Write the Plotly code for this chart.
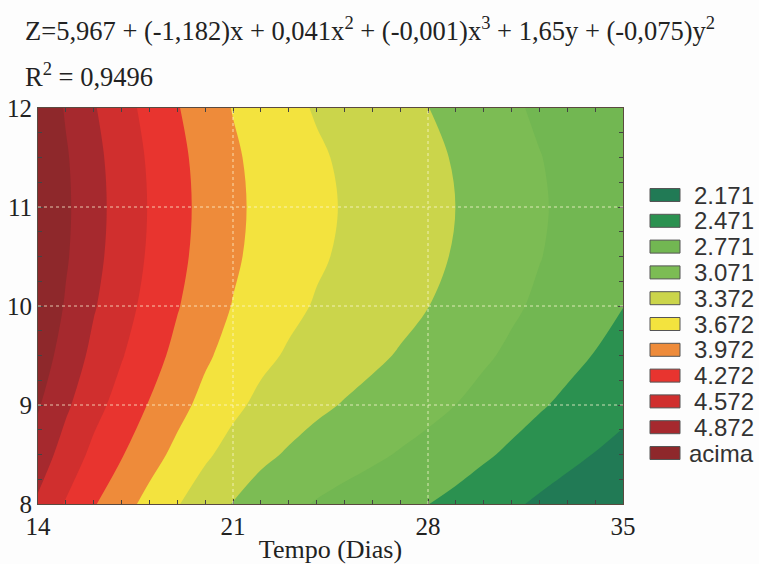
import plotly.graph_objects as go

# ---- data ----
tempo = list(range(14, 36))                       # x: Tempo (Dias)
y_vals = [8, 8.5, 9, 9.5, 10, 10.5, 11, 11.5, 12]  # y axis values

z_rows = [
    [4.525, 4.245, 3.995, 3.785, 3.580, 3.390, 3.210, 3.060, 2.930, 2.835, 2.750, 2.680, 2.615, 2.545, 2.475, 2.395, 2.305, 2.215, 2.125, 2.040, 1.955, 1.875],
    [4.731, 4.451, 4.201, 3.991, 3.786, 3.596, 3.416, 3.266, 3.136, 3.041, 2.956, 2.886, 2.821, 2.751, 2.681, 2.601, 2.511, 2.421, 2.331, 2.246, 2.161, 2.081],
    [4.900, 4.620, 4.370, 4.160, 3.955, 3.765, 3.585, 3.435, 3.305, 3.210, 3.125, 3.055, 2.990, 2.920, 2.850, 2.770, 2.680, 2.590, 2.500, 2.415, 2.330, 2.250],
    [5.031, 4.751, 4.501, 4.291, 4.086, 3.896, 3.716, 3.566, 3.436, 3.341, 3.256, 3.186, 3.121, 3.051, 2.981, 2.901, 2.811, 2.721, 2.631, 2.546, 2.461, 2.381],
    [5.125, 4.845, 4.595, 4.385, 4.180, 3.990, 3.810, 3.660, 3.530, 3.435, 3.350, 3.280, 3.215, 3.145, 3.075, 2.995, 2.905, 2.815, 2.725, 2.640, 2.555, 2.475],
    [5.181, 4.901, 4.651, 4.441, 4.236, 4.046, 3.866, 3.716, 3.586, 3.491, 3.406, 3.336, 3.271, 3.201, 3.131, 3.051, 2.961, 2.871, 2.781, 2.696, 2.611, 2.531],
    [5.200, 4.920, 4.670, 4.460, 4.255, 4.065, 3.885, 3.735, 3.605, 3.510, 3.425, 3.355, 3.290, 3.220, 3.150, 3.070, 2.980, 2.890, 2.800, 2.715, 2.630, 2.550],
    [5.181, 4.901, 4.651, 4.441, 4.236, 4.046, 3.866, 3.716, 3.586, 3.491, 3.406, 3.336, 3.271, 3.201, 3.131, 3.051, 2.961, 2.871, 2.781, 2.696, 2.611, 2.531],
    [5.125, 4.845, 4.595, 4.385, 4.180, 3.990, 3.810, 3.660, 3.530, 3.435, 3.350, 3.280, 3.215, 3.145, 3.075, 2.995, 2.905, 2.815, 2.725, 2.640, 2.555, 2.475],
]

level_start = 2.171
level_end = 4.872
level_step = 0.30011
legend_labels = ["2.171", "2.471", "2.771", "3.071", "3.372", "3.672",
                 "3.972", "4.272", "4.572", "4.872", "acima"]
band_colors = ["#217a55", "#2b9150", "#72b752", "#7cbc54", "#cbd54b", "#f3e33e",
               "#ee8b3a", "#e8342f", "#d02f2e", "#a6292e", "#8e282b"]

x_ticks = [14, 21, 28, 35]
y_ticks = [8, 9, 10, 11, 12]
grid_x = [21, 28]
grid_y = [9, 10, 11]

equation = ("Z=5,967 + (-1,182)x + 0,041x<sup>2</sup> + (-0,001)x<sup>3</sup>"
            " + 1,65y + (-0,075)y<sup>2</sup>")
r2_text = "R<sup>2</sup> = 0,9496"
x_title = "Tempo (Dias)"

# ---- layout geometry (pixels) ----
W, H = 759, 564
L, R, T, B = 38, 623, 108, 504
pw, ph = R - L, B - T


def px(xp):
    return (xp - L) / pw


def py(yp):
    return (B - yp) / ph


serif = "Liberation Serif, Times New Roman, serif"
sans = "Liberation Sans, Arial, sans-serif"

n = len(band_colors)
colorscale = [[i / (n - 1), c] for i, c in enumerate(band_colors)]

fig = go.Figure()
fig.add_trace(go.Contour(
    x=tempo, y=y_vals, z=z_rows,
    autocontour=False,
    contours=dict(start=level_start, end=level_end, size=level_step,
                  coloring="fill", showlines=False),
    line=dict(width=0, smoothing=1.0),
    colorscale=colorscale, showscale=False, hoverinfo="skip",
))

shapes = []
for gx in grid_x:
    shapes.append(dict(type="line", xref="x", yref="y", x0=gx, x1=gx,
                       y0=y_ticks[0], y1=y_ticks[-1], layer="above",
                       line=dict(color="rgba(255,250,215,0.75)", width=1, dash="dot")))
for gy in grid_y:
    shapes.append(dict(type="line", xref="x", yref="y", y0=gy, y1=gy,
                       x0=x_ticks[0], x1=x_ticks[-1], layer="above",
                       line=dict(color="rgba(255,250,215,0.75)", width=1, dash="dot")))

annotations = [
    dict(text=equation, xref="paper", yref="paper", x=px(23), y=py(29),
         xanchor="left", yanchor="middle", showarrow=False,
         font=dict(family=serif, size=26.5, color="#222")),
    dict(text=r2_text, xref="paper", yref="paper", x=px(23), y=py(75),
         xanchor="left", yanchor="middle", showarrow=False,
         font=dict(family=serif, size=26.5, color="#222")),
]

# legend (custom, Statistica-like)
leg_top = 195
leg_step = 25.8
for i, (lab, col) in enumerate(zip(legend_labels, band_colors)):
    cy = leg_top + i * leg_step
    shapes.append(dict(type="rect", xref="paper", yref="paper",
                       x0=px(650), x1=px(680), y0=py(cy - 6.5), y1=py(cy + 6.5),
                       fillcolor=col, line=dict(color="#555", width=1)))
    annotations.append(dict(text=lab, xref="paper", yref="paper",
                            x=px(756), y=py(cy), xanchor="right", yanchor="middle",
                            showarrow=False,
                            font=dict(family=sans, size=24, color="#333")))

fig.update_layout(
    width=W, height=H,
    margin=dict(l=L, r=W - R, t=T, b=H - B, autoexpand=False),
    paper_bgcolor="#fdfdfd", plot_bgcolor="#fdfdfd",
    showlegend=False,
    shapes=shapes, annotations=annotations,
    xaxis=dict(range=[x_ticks[0], x_ticks[-1]], tickvals=x_ticks,
               ticks="inside", ticklen=5, tickcolor="#444",
               minor=dict(dtick=1, tick0=14, ticks="inside", ticklen=4, tickcolor="#444"),
               showline=True, linecolor="#5a4a40", linewidth=1, mirror="ticks",
               showgrid=False, zeroline=False,
               tickfont=dict(family=serif, size=25, color="#222"),
               title=dict(text=x_title, font=dict(family=serif, size=26, color="#222"),
                          standoff=1)),
    yaxis=dict(range=[y_ticks[0], y_ticks[-1]], tickvals=y_ticks,
               ticks="inside", ticklen=5, tickcolor="#444",
               minor=dict(dtick=0.25, tick0=8, ticks="inside", ticklen=4, tickcolor="#444"),
               showline=True, linecolor="#5a4a40", linewidth=1, mirror="ticks",
               showgrid=False, zeroline=False,
               tickfont=dict(family=serif, size=25, color="#222")),
)

fig.write_html("out.html", config={"displayModeBar": False},
               post_script="document.body.style.margin='0';document.body.style.overflow='hidden';")
